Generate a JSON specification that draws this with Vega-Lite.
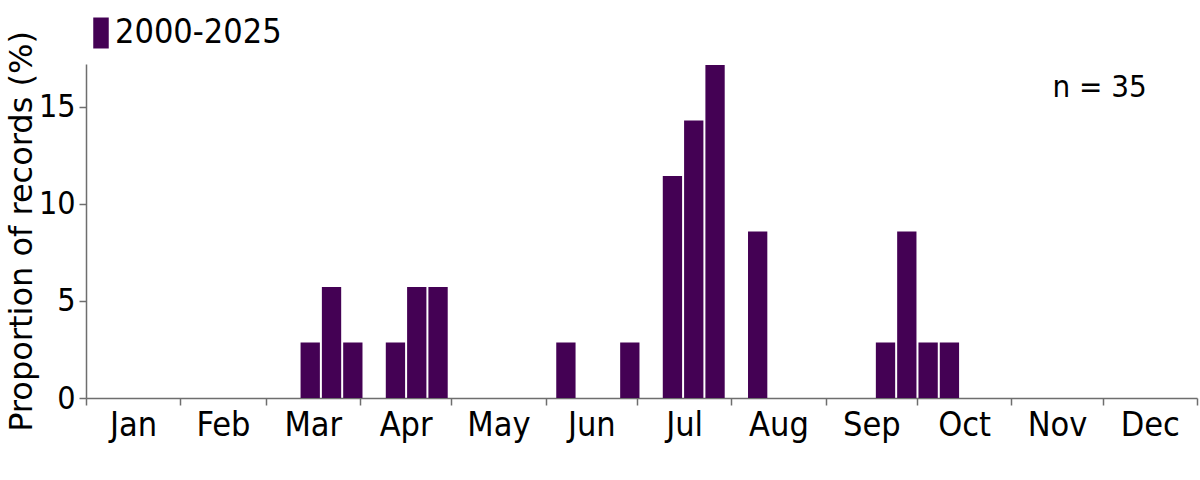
{
  "$schema": "https://vega.github.io/schema/vega-lite/v6.json",
  "width": 1111,
  "height": 334,
  "autosize": {"type": "none"},
  "padding": {"left": 86, "top": 64, "right": 3, "bottom": 82},
  "background": "white",
  "config": {
    "view": {"stroke": null},
    "font": "DejaVu Sans Condensed",
    "bar": {"binSpacing": 2},
    "axis": {
      "domainColor": "#6e6e6e",
      "tickColor": "#6e6e6e",
      "domainWidth": 1.5,
      "tickWidth": 1.5,
      "tickSize": 7,
      "labelColor": "black",
      "titleColor": "black",
      "labelFontSize": 34,
      "titleFontSize": 32,
      "titleFont": "DejaVu Sans",
      "titleFontWeight": "normal",
      "grid": false
    }
  },
  "datasets": {
    "bars": [
      {"period": "2000-2025", "start": 70, "end": 77, "pct": 2.857},
      {"period": "2000-2025", "start": 77, "end": 84, "pct": 5.714},
      {"period": "2000-2025", "start": 84, "end": 91, "pct": 2.857},
      {"period": "2000-2025", "start": 98, "end": 105, "pct": 2.857},
      {"period": "2000-2025", "start": 105, "end": 112, "pct": 5.714},
      {"period": "2000-2025", "start": 112, "end": 119, "pct": 5.714},
      {"period": "2000-2025", "start": 154, "end": 161, "pct": 2.857},
      {"period": "2000-2025", "start": 175, "end": 182, "pct": 2.857},
      {"period": "2000-2025", "start": 189, "end": 196, "pct": 11.429},
      {"period": "2000-2025", "start": 196, "end": 203, "pct": 14.286},
      {"period": "2000-2025", "start": 203, "end": 210, "pct": 17.143},
      {"period": "2000-2025", "start": 217, "end": 224, "pct": 8.571},
      {"period": "2000-2025", "start": 259, "end": 266, "pct": 2.857},
      {"period": "2000-2025", "start": 266, "end": 273, "pct": 8.571},
      {"period": "2000-2025", "start": 273, "end": 280, "pct": 2.857},
      {"period": "2000-2025", "start": 280, "end": 287, "pct": 2.857}
    ]
  },
  "layer": [
    {
      "data": {"name": "bars"},
      "mark": {"type": "bar", "opacity": 1},
      "encoding": {
        "x": {
          "field": "start",
          "type": "quantitative",
          "bin": {"binned": true},
          "scale": {"domain": [0, 365], "nice": false, "zero": false},
          "axis": {
            "title": null,
            "values": [0, 15.5, 31, 45, 59, 74.5, 90, 105, 120, 135.5, 151, 166, 181, 196.5, 212, 227.5, 243, 258, 273, 288.5, 304, 319, 334, 349.5, 365],
            "labelExpr": "['Jan','Feb','Mar','Apr','May','Jun','Jul','Aug','Sep','Oct','Nov','Dec'][indexof([15.5,45,74.5,105,135.5,166,196.5,227.5,258,288.5,319,349.5], datum.value)] || ''",
            "tickOpacity": {"condition": {"test": "indexof([0,31,59,90,120,151,181,212,243,273,304,334,365], datum.value) >= 0", "value": 1}, "value": 0},
            "labelOverlap": false,
            "labelBound": false,
            "labelFlush": false,
            "labelPadding": 3
          }
        },
        "x2": {"field": "end"},
        "y": {
          "field": "pct",
          "type": "quantitative",
          "scale": {"domain": [0, 17.2], "nice": false},
          "axis": {
            "title": "Proportion of records (%)",
            "values": [0, 5, 10, 15],
            "labelFontSize": 32,
            "labelPadding": 4,
            "titlePadding": 0
          }
        },
        "color": {
          "field": "period",
          "type": "nominal",
          "scale": {"range": ["#440154"]},
          "legend": {
            "title": null,
            "orient": "none",
            "legendX": -2,
            "legendY": -48,
            "padding": 0,
            "symbolType": "M-1,-2L1,-2L1,2L-1,2Z",
            "symbolSize": 240,
            "symbolStrokeWidth": 0,
            "symbolOpacity": 1,
            "labelFontSize": 34,
            "labelLimit": 0,
            "labelColor": "black",
            "labelOffset": -3
          }
        }
      }
    },
    {
      "data": {"values": [{"n": 35}]},
      "mark": {"type": "text", "fontSize": 31, "align": "center", "baseline": "alphabetic", "color": "black"},
      "encoding": {
        "x": {"datum": 333},
        "y": {"datum": 15.5},
        "text": {"value": "n = 35"}
      }
    }
  ]
}
